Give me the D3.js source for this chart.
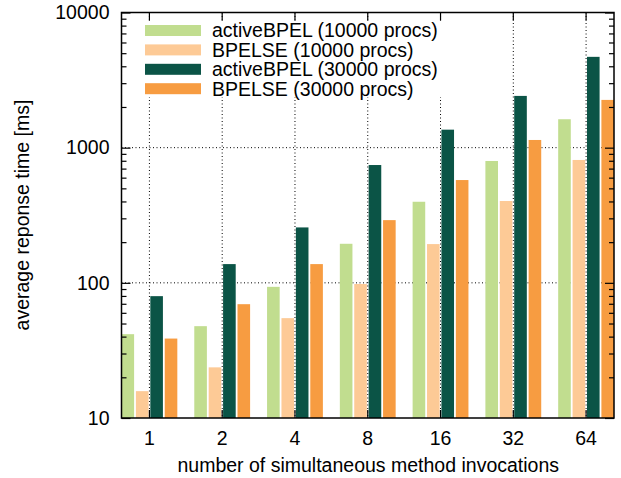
<!DOCTYPE html>
<html>
<head>
<meta charset="utf-8">
<script src="https://cdn.jsdelivr.net/npm/d3@7"></script>
<style>
	body { margin: 0; background: #fff; }
	svg text { font-family: "Liberation Sans", Arial, sans-serif; fill: #000; }
</style>
</head>
<body>
<div id="chart"></div>
<script>
// categories on the x axis
const invocations = ['1', '2', '4', '8', '16', '32', '64'];

// series names, in legend / bar order
const seriesNames = [
	'activeBPEL (10000 procs)',
	'BPELSE (10000 procs)',
	'activeBPEL (30000 procs)',
	'BPELSE (30000 procs)'
];
const seriesColors = ['#c1dd8f', '#fdca96', '#0b5446', '#f79c41'];

// average response time [ms]
const active10k = [41.7, 47.8, 93.4, 194.5, 398, 797, 1623];
const bpelse10k = [15.8, 23.7, 54.8, 98, 193.5, 403, 811];
const active30k = [79.7, 137.6, 257, 744, 1359, 2415, 4698];
const bpelse30k = [38.7, 69.5, 137.6, 291, 576, 1140, 2256];

const yMajor = [10, 100, 1000, 10000];

const seriesValues = [active10k, bpelse10k, active30k, bpelse30k];

const config = {
	width: 621,
	height: 478,
	left: 121.5, right: 614, top: 12.5, bottom: 418,
	fontSize: '19.5px'
};

const svg = d3.select('#chart').append('svg')
	.attr('width', config.width)
	.attr('height', config.height);

const x = d3.scaleBand()
	.domain(invocations)
	.range([config.left, config.right])
	.paddingInner(0.233)
	.paddingOuter(0);

const xInner = d3.scaleBand()
	.domain(seriesNames)
	.range([0, x.bandwidth()])
	.paddingInner(0.125);

const y = d3.scaleLog()
	.domain([10, 10000])
	.range([config.bottom, config.top]);

//minor ticks 20..90, 200..900, 2000..9000
const yMinor = [];
yMajor.slice(0, -1).forEach(m => d3.range(2, 10).forEach(k => yMinor.push(m * k)));

//Grid (dotted), behind the bars
const grid = svg.append('g').attr('class', 'grid');
grid.selectAll('line.gx')
	.data(invocations)
	.join('line')
	.attr('class', 'gx')
	.attr('x1', d => x(d) + x.bandwidth() / 2)
	.attr('x2', d => x(d) + x.bandwidth() / 2)
	.attr('y1', config.top)
	.attr('y2', config.bottom);
grid.selectAll('line.gy')
	.data(yMajor.slice(1, -1))
	.join('line')
	.attr('class', 'gy')
	.attr('x1', config.left)
	.attr('x2', config.right)
	.attr('y1', d => y(d))
	.attr('y2', d => y(d));
grid.selectAll('line')
	.attr('stroke', '#000')
	.attr('stroke-width', 1)
	.attr('stroke-dasharray', '1,2.5');

//Bars
const rows = invocations.map((c, i) => ({cat: c, vals: seriesNames.map((s, j) => ({s: s, j: j, v: seriesValues[j][i]}))}));

svg.append('g').selectAll('g')
	.data(rows)
	.join('g')
	.attr('transform', d => `translate(${x(d.cat)},0)`)
	.selectAll('rect')
	.data(d => d.vals)
	.join('rect')
	.attr('x', d => xInner(d.s))
	.attr('y', d => y(d.v))
	.attr('width', xInner.bandwidth())
	.attr('height', d => config.bottom - y(d.v))
	.attr('fill', d => seriesColors[d.j]);

//Legend with opaque background
const legend = svg.append('g');
legend.append('rect')
	.attr('x', config.left + 1)
	.attr('y', 21)
	.attr('width', 330)
	.attr('height', 76)
	.attr('fill', '#fff');

const legendRow = legend.selectAll('g')
	.data(seriesNames)
	.join('g')
	.attr('transform', (d, i) => `translate(0,${30.5 + i * 19.4})`);
legendRow.append('rect')
	.attr('x', 145)
	.attr('y', -5.5)
	.attr('width', 56)
	.attr('height', 11)
	.attr('fill', (d, i) => seriesColors[i]);
legendRow.append('text')
	.attr('x', 212)
	.attr('dy', '0.35em')
	.style('font-size', config.fontSize)
	.text(d => d);

//Axes: ticks point inward, mirrored on top and right
const xAxisBottom = d3.axisBottom(x).tickSizeInner(-8).tickSizeOuter(0).tickPadding(13);
const xAxisTop = d3.axisTop(x).tickSizeInner(-8).tickSizeOuter(0).tickFormat('');
const yAxisLeft = d3.axisLeft(y).tickValues(yMajor).tickFormat(d3.format('d'))
	.tickSizeInner(-9).tickSizeOuter(0).tickPadding(12);
const yAxisRight = d3.axisRight(y).tickValues(yMajor).tickFormat('').tickSizeInner(-9).tickSizeOuter(0);

svg.append('g')
	.attr('class', 'x-axis')
	.attr('transform', `translate(0,${config.bottom})`)
	.call(xAxisBottom);
svg.append('g')
	.attr('transform', `translate(0,${config.top})`)
	.call(xAxisTop);
svg.append('g')
	.attr('class', 'y-axis')
	.attr('transform', `translate(${config.left},0)`)
	.call(yAxisLeft);
svg.append('g')
	.attr('transform', `translate(${config.right},0)`)
	.call(yAxisRight);

//Minor ticks on both sides
svg.append('g')
	.attr('transform', `translate(${config.left},0)`)
	.call(d3.axisLeft(y).tickValues(yMinor).tickFormat('').tickSizeInner(-5).tickSizeOuter(0));
svg.append('g')
	.attr('transform', `translate(${config.right},0)`)
	.call(d3.axisRight(y).tickValues(yMinor).tickFormat('').tickSizeInner(-5).tickSizeOuter(0));

svg.selectAll('.domain').remove();
svg.selectAll('.tick line').attr('stroke', '#000').attr('stroke-width', 1.2);
svg.selectAll('.tick text').style('font-size', config.fontSize).attr('fill', '#000');

//Border
svg.append('rect')
	.attr('x', config.left)
	.attr('y', config.top)
	.attr('width', config.right - config.left)
	.attr('height', config.bottom - config.top)
	.attr('fill', 'none')
	.attr('stroke', '#000')
	.attr('stroke-width', 1.5);

//Axis labels
svg.append('text')
	.attr('x', (config.left + config.right) / 2 + 0.5)
	.attr('y', 472)
	.attr('text-anchor', 'middle')
	.style('font-size', config.fontSize)
	.text('number of simultaneous method invocations');

svg.append('text')
	.attr('transform', 'translate(29,215) rotate(-90)')
	.attr('text-anchor', 'middle')
	.style('font-size', config.fontSize)
	.text('average reponse time [ms]');
</script>
</body>
</html>
